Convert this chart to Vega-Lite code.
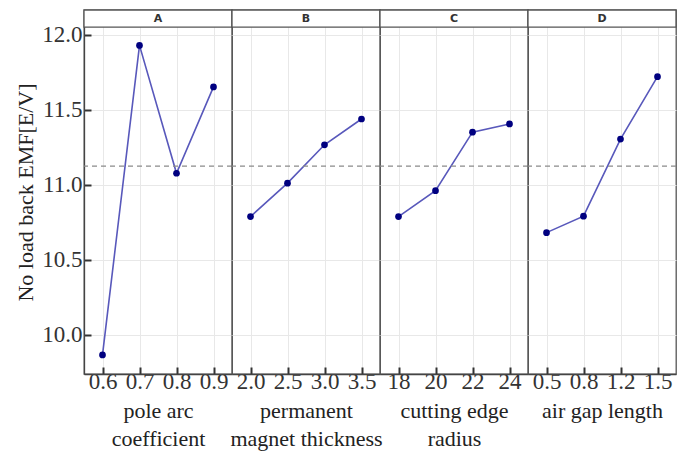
{
  "$schema": "https://vega.github.io/schema/vega-lite/v6.json",
  "background": "white",
  "padding": {"left": 14, "top": 8, "right": 2, "bottom": 2},
  "spacing": 0,
  "bounds": "flush",
  "datasets": {
    "effects": [
      {"panel": "A", "level": "0.6", "emf": 9.864},
      {"panel": "A", "level": "0.7", "emf": 11.929},
      {"panel": "A", "level": "0.8", "emf": 11.076},
      {"panel": "A", "level": "0.9", "emf": 11.652},
      {"panel": "B", "level": "2.0", "emf": 10.787},
      {"panel": "B", "level": "2.5", "emf": 11.01},
      {"panel": "B", "level": "3.0", "emf": 11.266},
      {"panel": "B", "level": "3.5", "emf": 11.438},
      {"panel": "C", "level": "18", "emf": 10.787},
      {"panel": "C", "level": "20", "emf": 10.96},
      {"panel": "C", "level": "22", "emf": 11.35},
      {"panel": "C", "level": "24", "emf": 11.405},
      {"panel": "D", "level": "0.5", "emf": 10.68},
      {"panel": "D", "level": "0.8", "emf": 10.79},
      {"panel": "D", "level": "1.2", "emf": 11.304},
      {"panel": "D", "level": "1.5", "emf": 11.72}
    ],
    "strips": [{"panel": "A"}, {"panel": "B"}, {"panel": "C"}, {"panel": "D"}],
    "mean": [{"grand_mean": 11.124}]
  },
  "config": {
    "view": {"stroke": "#555555", "strokeWidth": 1.3},
    "axis": {
      "labelFont": "Liberation Serif",
      "labelFontSize": 23,
      "labelColor": "#333333",
      "titleFont": "Liberation Serif",
      "titleFontSize": 22,
      "titleFontWeight": "normal",
      "titleColor": "#222222",
      "gridColor": "#e8e8e8",
      "gridWidth": 1,
      "domainColor": "#444444",
      "domainWidth": 1.3,
      "tickColor": "#333333",
      "tickWidth": 2,
      "tickSize": -7,
      "labelPadding": 3
    },
    "axisX": {"labelAngle": 0, "titleLineHeight": 28, "titlePadding": 7},
    "axisY": {"labelPadding": 9}
  },
  "hconcat": [
    {
      "width": 148, "height": 364,
      "layer": [
        {
          "data": {"name": "effects"},
          "transform": [{"filter": "datum.panel === 'A'"}],
          "mark": {"type": "line", "color": "#5858bb", "strokeWidth": 1.6},
          "encoding": {
            "x": {"field": "level", "type": "ordinal", "scale": {"type": "point", "padding": 0.5}, "axis": {"title": ["pole arc", "coefficient"], "grid": true}},
            "y": {"field": "emf", "type": "quantitative", "scale": {"domain": [9.737, 12.165], "nice": false, "zero": false}, "axis": {"title": "No load back EMF[E/V]", "values": [10, 10.5, 11, 11.5, 12], "format": ".1f", "grid": true, "titlePadding": 4}}
          }
        },
        {
          "data": {"name": "effects"},
          "transform": [{"filter": "datum.panel === 'A'"}],
          "mark": {"type": "point", "filled": true, "color": "#000080", "opacity": 1, "size": 45},
          "encoding": {
            "x": {"field": "level", "type": "ordinal"},
            "y": {"field": "emf", "type": "quantitative"}
          }
        },
        {
          "data": {"name": "mean"},
          "mark": {"type": "rule", "color": "#8a8a8a", "strokeWidth": 1.3, "strokeDash": [5, 4]},
          "encoding": {"y": {"field": "grand_mean", "type": "quantitative"}}
        },
        {
          "data": {"name": "strips"},
          "transform": [{"filter": "datum.panel === 'A'"}],
          "mark": {"type": "rect", "fill": "white", "stroke": "#555555", "strokeWidth": 1.3},
          "encoding": {"y": {"datum": 12.051, "type": "quantitative"}, "y2": {"datum": 12.165}}
        },
        {
          "data": {"name": "strips"},
          "transform": [{"filter": "datum.panel === 'A'"}],
          "mark": {"type": "text", "font": "DejaVu Sans", "fontSize": 11, "fontWeight": "bold", "color": "#333333", "baseline": "middle"},
          "encoding": {"y": {"datum": 12.108, "type": "quantitative"}, "text": {"field": "panel"}}
        }
      ]
    },
    {
      "width": 148, "height": 364,
      "layer": [
        {
          "data": {"name": "effects"},
          "transform": [{"filter": "datum.panel === 'B'"}],
          "mark": {"type": "line", "color": "#5858bb", "strokeWidth": 1.6},
          "encoding": {
            "x": {"field": "level", "type": "ordinal", "scale": {"type": "point", "padding": 0.5}, "axis": {"title": ["permanent", "magnet thickness"], "grid": true}},
            "y": {"field": "emf", "type": "quantitative", "scale": {"domain": [9.737, 12.165], "nice": false, "zero": false}, "axis": {"title": null, "values": [10, 10.5, 11, 11.5, 12], "labels": false, "ticks": false, "domain": false, "grid": true}}
          }
        },
        {
          "data": {"name": "effects"},
          "transform": [{"filter": "datum.panel === 'B'"}],
          "mark": {"type": "point", "filled": true, "color": "#000080", "opacity": 1, "size": 45},
          "encoding": {
            "x": {"field": "level", "type": "ordinal"},
            "y": {"field": "emf", "type": "quantitative"}
          }
        },
        {
          "data": {"name": "mean"},
          "mark": {"type": "rule", "color": "#8a8a8a", "strokeWidth": 1.3, "strokeDash": [5, 4]},
          "encoding": {"y": {"field": "grand_mean", "type": "quantitative"}}
        },
        {
          "data": {"name": "strips"},
          "transform": [{"filter": "datum.panel === 'B'"}],
          "mark": {"type": "rect", "fill": "white", "stroke": "#555555", "strokeWidth": 1.3},
          "encoding": {"y": {"datum": 12.051, "type": "quantitative"}, "y2": {"datum": 12.165}}
        },
        {
          "data": {"name": "strips"},
          "transform": [{"filter": "datum.panel === 'B'"}],
          "mark": {"type": "text", "font": "DejaVu Sans", "fontSize": 11, "fontWeight": "bold", "color": "#333333", "baseline": "middle"},
          "encoding": {"y": {"datum": 12.108, "type": "quantitative"}, "text": {"field": "panel"}}
        }
      ]
    },
    {
      "width": 148, "height": 364,
      "layer": [
        {
          "data": {"name": "effects"},
          "transform": [{"filter": "datum.panel === 'C'"}],
          "mark": {"type": "line", "color": "#5858bb", "strokeWidth": 1.6},
          "encoding": {
            "x": {"field": "level", "type": "ordinal", "scale": {"type": "point", "padding": 0.5}, "axis": {"title": ["cutting edge", "radius"], "grid": true}},
            "y": {"field": "emf", "type": "quantitative", "scale": {"domain": [9.737, 12.165], "nice": false, "zero": false}, "axis": {"title": null, "values": [10, 10.5, 11, 11.5, 12], "labels": false, "ticks": false, "domain": false, "grid": true}}
          }
        },
        {
          "data": {"name": "effects"},
          "transform": [{"filter": "datum.panel === 'C'"}],
          "mark": {"type": "point", "filled": true, "color": "#000080", "opacity": 1, "size": 45},
          "encoding": {
            "x": {"field": "level", "type": "ordinal"},
            "y": {"field": "emf", "type": "quantitative"}
          }
        },
        {
          "data": {"name": "mean"},
          "mark": {"type": "rule", "color": "#8a8a8a", "strokeWidth": 1.3, "strokeDash": [5, 4]},
          "encoding": {"y": {"field": "grand_mean", "type": "quantitative"}}
        },
        {
          "data": {"name": "strips"},
          "transform": [{"filter": "datum.panel === 'C'"}],
          "mark": {"type": "rect", "fill": "white", "stroke": "#555555", "strokeWidth": 1.3},
          "encoding": {"y": {"datum": 12.051, "type": "quantitative"}, "y2": {"datum": 12.165}}
        },
        {
          "data": {"name": "strips"},
          "transform": [{"filter": "datum.panel === 'C'"}],
          "mark": {"type": "text", "font": "DejaVu Sans", "fontSize": 11, "fontWeight": "bold", "color": "#333333", "baseline": "middle"},
          "encoding": {"y": {"datum": 12.108, "type": "quantitative"}, "text": {"field": "panel"}}
        }
      ]
    },
    {
      "width": 148, "height": 364,
      "layer": [
        {
          "data": {"name": "effects"},
          "transform": [{"filter": "datum.panel === 'D'"}],
          "mark": {"type": "line", "color": "#5858bb", "strokeWidth": 1.6},
          "encoding": {
            "x": {"field": "level", "type": "ordinal", "scale": {"type": "point", "padding": 0.5}, "axis": {"title": "air gap length", "grid": true}},
            "y": {"field": "emf", "type": "quantitative", "scale": {"domain": [9.737, 12.165], "nice": false, "zero": false}, "axis": {"title": null, "values": [10, 10.5, 11, 11.5, 12], "labels": false, "ticks": false, "domain": false, "grid": true}}
          }
        },
        {
          "data": {"name": "effects"},
          "transform": [{"filter": "datum.panel === 'D'"}],
          "mark": {"type": "point", "filled": true, "color": "#000080", "opacity": 1, "size": 45},
          "encoding": {
            "x": {"field": "level", "type": "ordinal"},
            "y": {"field": "emf", "type": "quantitative"}
          }
        },
        {
          "data": {"name": "mean"},
          "mark": {"type": "rule", "color": "#8a8a8a", "strokeWidth": 1.3, "strokeDash": [5, 4]},
          "encoding": {"y": {"field": "grand_mean", "type": "quantitative"}}
        },
        {
          "data": {"name": "strips"},
          "transform": [{"filter": "datum.panel === 'D'"}],
          "mark": {"type": "rect", "fill": "white", "stroke": "#555555", "strokeWidth": 1.3},
          "encoding": {"y": {"datum": 12.051, "type": "quantitative"}, "y2": {"datum": 12.165}}
        },
        {
          "data": {"name": "strips"},
          "transform": [{"filter": "datum.panel === 'D'"}],
          "mark": {"type": "text", "font": "DejaVu Sans", "fontSize": 11, "fontWeight": "bold", "color": "#333333", "baseline": "middle"},
          "encoding": {"y": {"datum": 12.108, "type": "quantitative"}, "text": {"field": "panel"}}
        }
      ]
    }
  ]
}
